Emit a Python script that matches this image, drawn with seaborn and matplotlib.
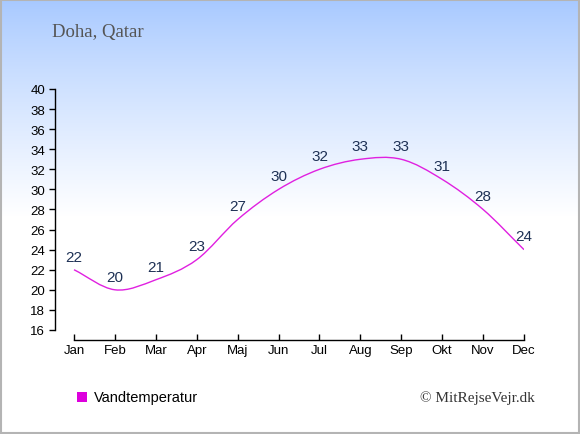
import numpy as np
import pandas as pd
import matplotlib
matplotlib.use("Agg")
import matplotlib.pyplot as plt
from matplotlib.path import Path
from matplotlib.patches import PathPatch, Rectangle
import seaborn as sns

# Chart data
months = ["Jan", "Feb", "Mar", "Apr", "Maj", "Jun", "Jul", "Aug", "Sep", "Okt", "Nov", "Dec"]
water_temp = [22, 20, 21, 23, 27, 30, 32, 33, 33, 31, 28, 24]
y_ticks = list(range(16, 41, 2))
title = "Doha, Qatar"
series_name = "Vandtemperatur"
credit = "\u00a9 MitRejseVejr.dk"

line_color = "#e020e0"
label_color = "#1e3155"

sns.set_theme(style="ticks")
plt.rcParams["font.family"] = ["Liberation Sans", "DejaVu Sans"]

fig = plt.figure(figsize=(5.8, 4.35), dpi=100)

# Background: light blue gradient fading to white
bg = fig.add_axes([0, 0, 1, 1], zorder=-10)
bg.set_axis_off()
h = 435
rows = np.linspace(0, 1, h)
fade = np.clip(rows / 0.5, 0, 1) ** 0.85
top = np.array([166, 200, 255]) / 255
grad = top[None, :] * (1 - fade[:, None]) + fade[:, None]
bg.imshow(grad[:, None, :], aspect="auto", extent=[0, 1, 0, 1], origin="upper")
bg.set_xlim(0, 1)
bg.set_ylim(0, 1)
bg.add_patch(Rectangle((0.0015, 0.002), 0.997, 0.996, fill=False,
                       edgecolor="#b4b4b4", linewidth=1.5))

# Main axes, placed to match pixel layout
ax = fig.add_axes([55 / 580, (435 - 341) / 435, 469 / 580, 251 / 435])
ax.patch.set_alpha(0)

df = pd.DataFrame({"idx": np.arange(len(months)), "temp": water_temp})
sns.lineplot(data=df, x="idx", y="temp", ax=ax, color=line_color, linewidth=1)

# replace the straight polyline with a smooth Catmull-Rom curve through the same points
line = ax.lines[0]
xs, ys = [np.asarray(a, dtype=float) for a in line.get_data()]
line.set_visible(False)
pts = np.column_stack([xs, ys])
n = len(pts)
tang = np.zeros_like(pts)
tang[1:-1] = (pts[2:] - pts[:-2]) / 2
tang[0] = pts[1] - pts[0]
tang[-1] = pts[-1] - pts[-2]
verts = [pts[0]]
codes = [Path.MOVETO]
for i in range(n - 1):
    verts += [pts[i] + tang[i] / 3, pts[i + 1] - tang[i + 1] / 3, pts[i + 1]]
    codes += [Path.CURVE4] * 3
ax.add_patch(PathPatch(Path(verts, codes), facecolor="none",
                       edgecolor=line_color, linewidth=1))

for i, v in enumerate(water_temp):
    ax.annotate(str(v), (i, v), xytext=(0, 9.5), textcoords="offset points",
                ha="center", va="center", fontsize=11, color=label_color)

ax.set_xlim(-19 / 40.9, 11)
ax.set_ylim(15, 40)
ax.set_xticks(range(len(months)))
ax.set_xticklabels(months)
ax.set_yticks(y_ticks)
ax.tick_params(axis="both", labelsize=9.5, colors="black", length=4, width=1, pad=3)
ax.tick_params(axis="x", direction="in", length=4)
ax.set_xlabel("")
ax.set_ylabel("")
sns.despine(ax=ax)
ax.spines["left"].set_bounds(16, 40)
ax.spines["bottom"].set_bounds(0, 11)
for s in ("left", "bottom"):
    ax.spines[s].set_color("black")
    ax.spines[s].set_linewidth(1)

# Title, legend and credit
fig.text(52 / 580, 1 - 33 / 435, title, fontsize=13.5, color="#555555",
         family=["Liberation Serif", "DejaVu Serif"], va="center", ha="left")
fig.patches.append(Rectangle((77 / 580, 1 - 403 / 435), 10 / 580, 10 / 435,
                             transform=fig.transFigure, facecolor="#dd00dd",
                             edgecolor="none", figure=fig))
fig.text(94 / 580, 1 - 398 / 435, series_name, fontsize=10.5, color="black",
         va="center", ha="left")
fig.text(535 / 580, 1 - 398 / 435, credit, fontsize=11, color="#333333",
         family=["Liberation Serif", "DejaVu Serif"], va="center", ha="right")

fig.savefig("out.png", dpi=100)
